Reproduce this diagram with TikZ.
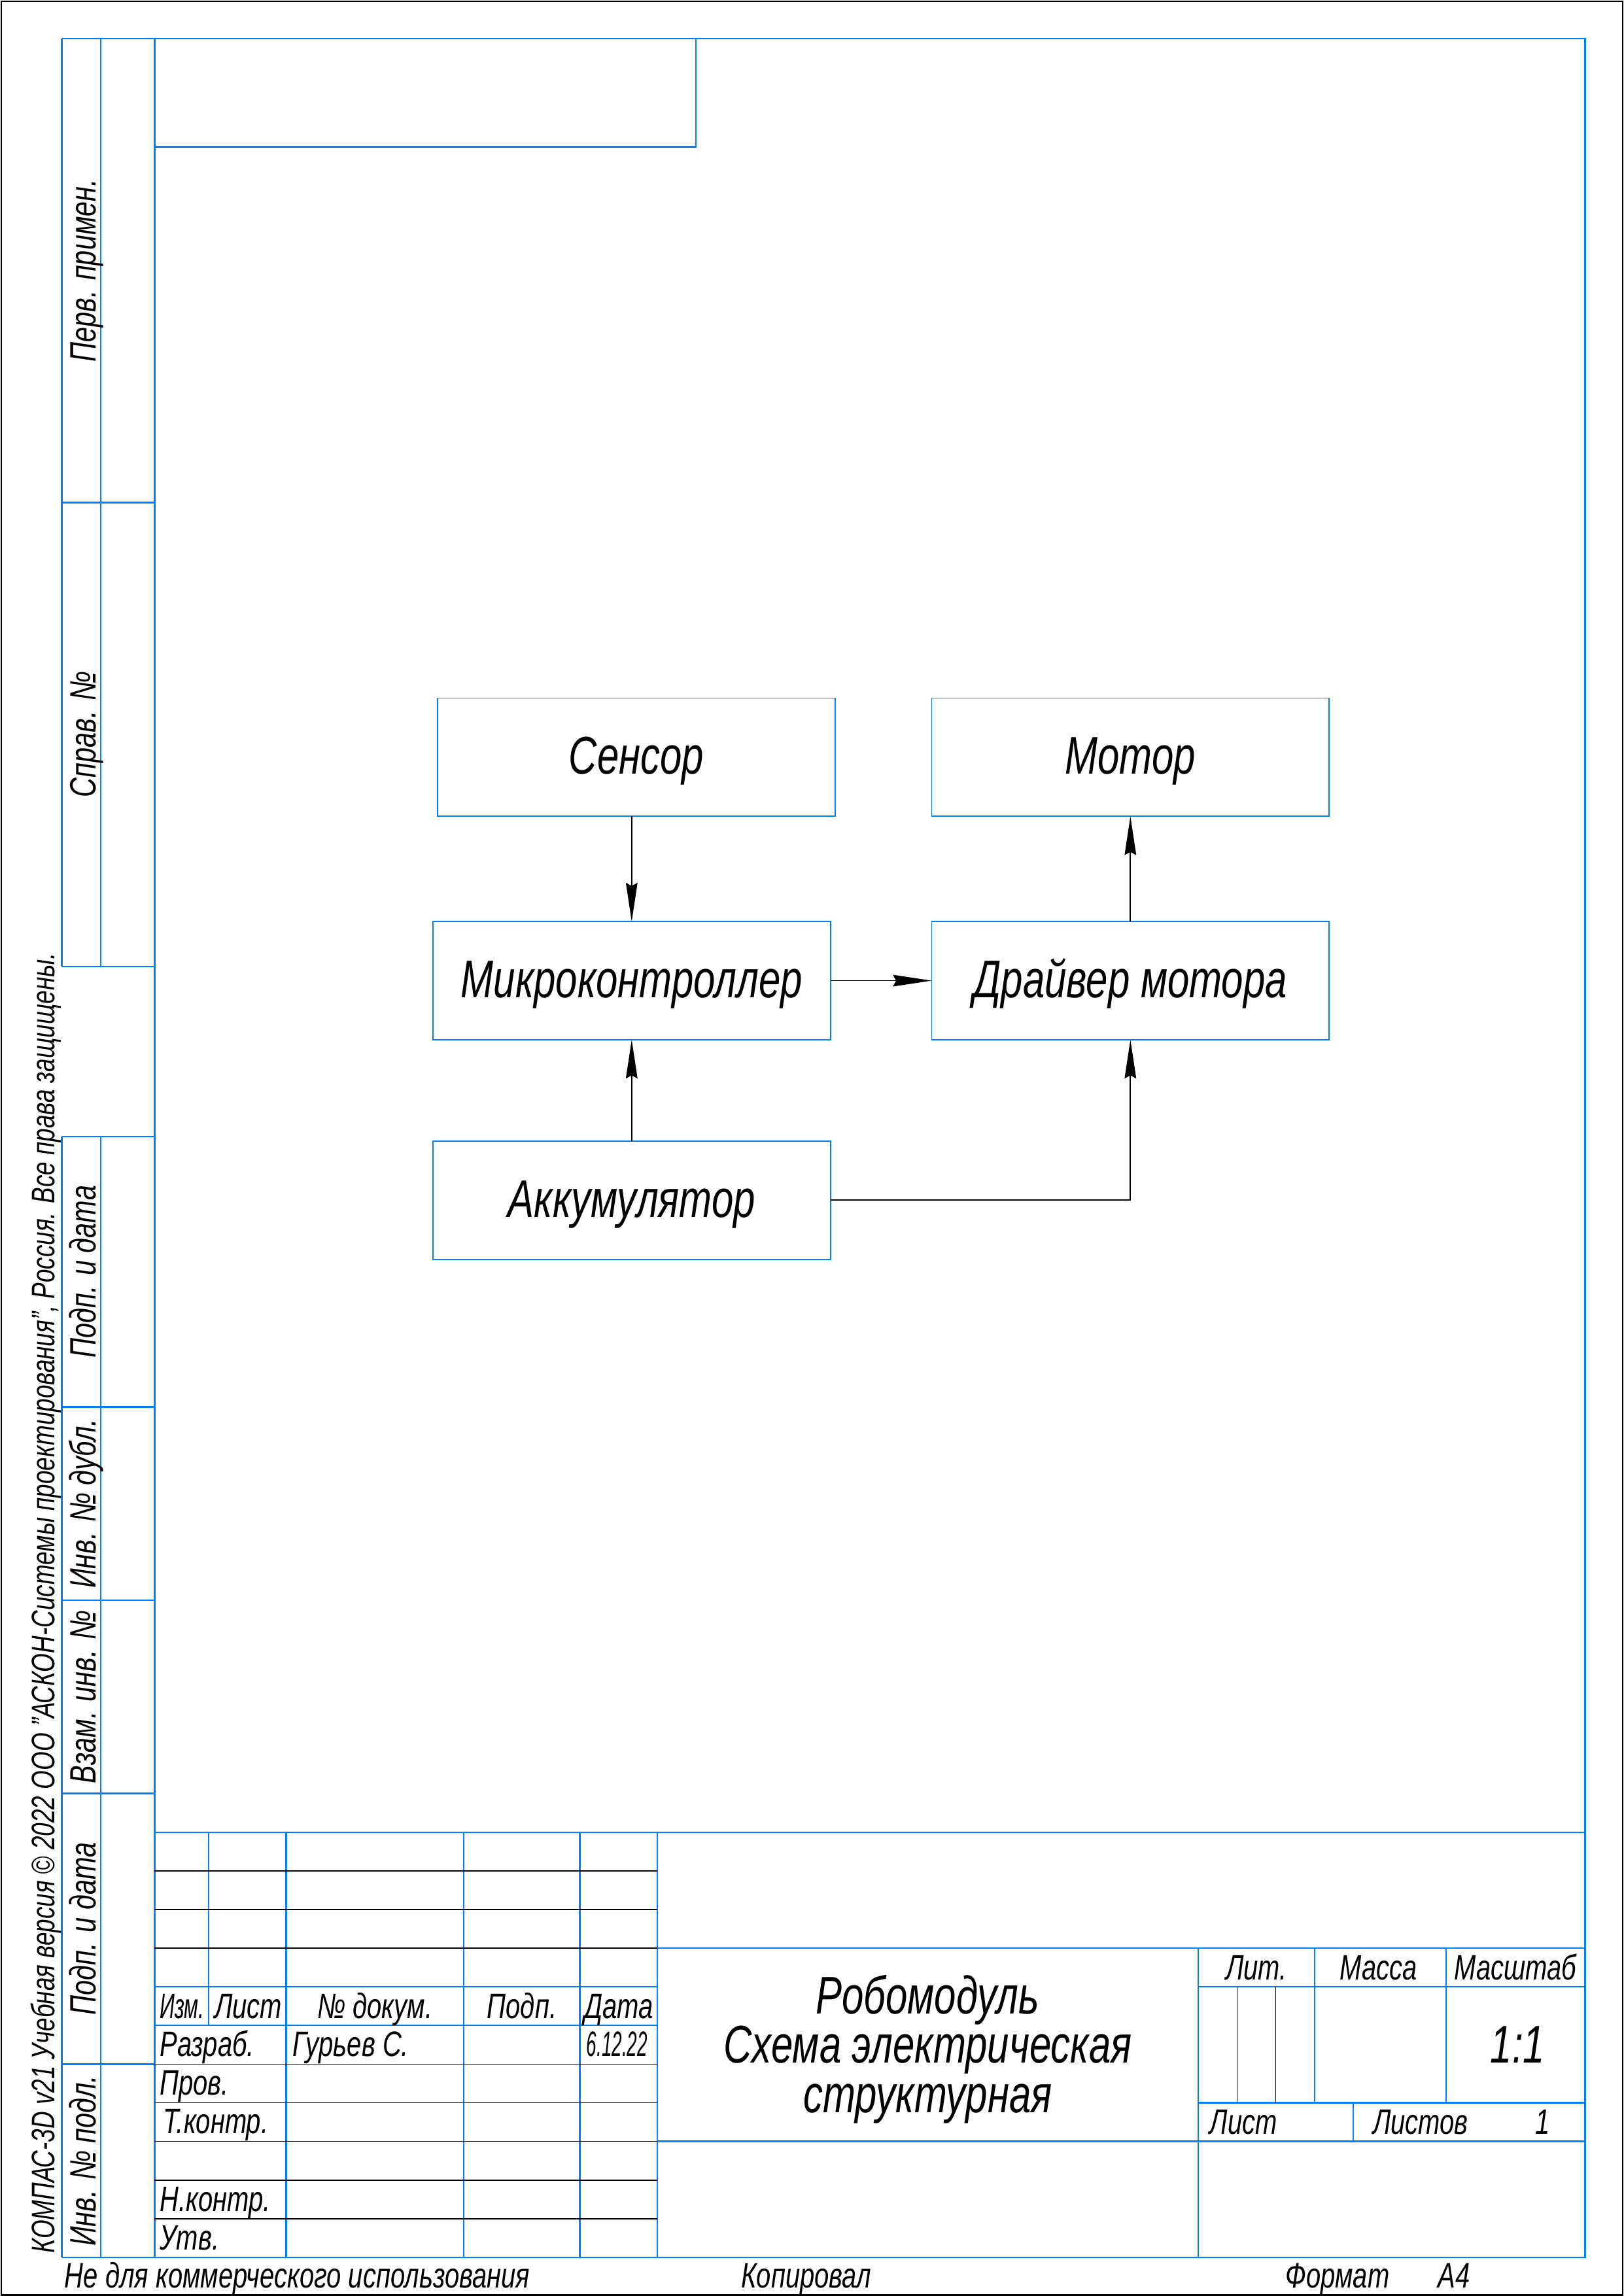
\documentclass[tikz,border=0pt]{standalone}
\usepackage{fontspec}
\setmainfont{Liberation Sans}[FakeStretch=0.74]
\usepackage{graphicx}
\usetikzlibrary{arrows.meta}
\definecolor{kblue}{RGB}{0,128,255}
\newcommand{\squeeze}[2]{\scalebox{#1}[1]{#2}}

\begin{document}
\begin{tikzpicture}[x=1mm, y=-1mm,
	frm/.style={kblue, line width=0.55pt},
	thn/.style={black, line width=0.4pt},
	block/.style={draw=kblue, line width=0.45pt, minimum width=51.4mm, minimum height=15.3mm,
		inner sep=0pt, outer sep=0pt, text height=4.4mm, text depth=0pt,
		font=\fontsize{19.5}{23}\selectfont\itshape},
	conn/.style={line width=0.4pt, -{Stealth[length=5mm, width=1.5mm, inset=0.4mm]}},
	lbl/.style={inner sep=0pt, font=\fontsize{13}{15}\selectfont\itshape},
	big/.style={inner sep=0pt, font=\fontsize{19.5}{23}\selectfont\itshape},
	side/.style={rotate=90, anchor=base, inner sep=0pt, font=\fontsize{13.5}{15}\selectfont\itshape},
	]
	\useasboundingbox (0,0) rectangle (210,297);
	\draw[line width=0.6pt] (0.15,0.15) rectangle (209.85,296.85);

	% frame and side table
	\draw[frm] (20,5) rectangle (205,292);
	\draw[frm] (20,19) -- (90,19) -- (90,5);
	\foreach \x in {8,13} {
		\draw[frm] (\x,5) -- (\x,125);
		\draw[frm] (\x,147) -- (\x,292);
	}
	\foreach \y in {5,65,125,147,182,207,232,267,292}
		\draw[frm] (8,\y) -- (20,\y);
	\foreach \y/\t [count=\i] in {35/Перв. примен., 95/Справ. №, 164.5/Подп. и дата,
		194.5/Инв. № дубл., 219.5/Взам. инв. №, 249.5/Подп. и дата, 279.5/Инв. № подл.}
		\node[side] (side\i) at (12.4,\y) {\t};
	\node[rotate=90, anchor=base west, inner sep=0pt, font=\fontsize{12}{14}\selectfont\itshape]
		(wmark) at (7.1,291.5) {КОМПАС-3D v21 Учебная версия © 2022 ООО "АСКОН-Системы проектирования", Россия. Все права защищены.};

	% title block
	\draw[frm] (20,237) -- (205,237);
	\draw[frm] (27,237) -- (27,262);
	\foreach \x in {37,60,75,85}
		\draw[frm] (\x,237) -- (\x,292);
	\foreach \y in {242,247,252,267,272,277,282,287}
		\draw[thn] (20,\y) -- (85,\y);
	\foreach \y in {257,262}
		\draw[frm] (20,\y) -- (85,\y);
	\foreach \y in {252,277}
		\draw[frm] (85,\y) -- (205,\y);
	\draw[frm] (155,252) -- (155,292);
	\foreach \y in {257,272}
		\draw[frm] (155,\y) -- (205,\y);
	\foreach \x in {170,187}
		\draw[frm] (\x,252) -- (\x,272);
	\draw[frm] (175,272) -- (175,277);
	\foreach \x in {160,165}
		\draw[thn] (\x,257) -- (\x,272);

	\node[lbl, anchor=base west] (izm) at (20.6,261.1) {\squeeze{0.8}{Изм.}};
	\node[lbl, anchor=base west] (list) at (27.7,261.1) {Лист};
	\node[lbl, anchor=base] (ndoc) at (48.5,261.1) {№ докум.};
	\node[lbl, anchor=base] (podp) at (67.5,261.1) {Подп.};
	\node[lbl, anchor=base] (data) at (80,261.1) {Дата};
	\node[lbl, anchor=base west] (razr) at (20.6,266) {Разраб.};
	\node[lbl, anchor=base west] (fio) at (37.8,266) {Гурьев С.};
	\node[lbl, anchor=base] (date) at (79.8,266) {\squeeze{0.7}{6.12.22}};
	\node[lbl, anchor=base west] (prov) at (20.6,271) {Пров.};
	\node[lbl, anchor=base west] (tkontr) at (21,276) {Т.контр.};
	\node[lbl, anchor=base west] (nkontr) at (20.6,286) {Н.контр.};
	\node[lbl, anchor=base west] (utv) at (20.6,291) {Утв.};

	\node[big, anchor=base] (name) at (120,260.5) {Робомодуль};
	\node[big, anchor=base] (kind1) at (120,266.8) {Схема электрическая};
	\node[big, anchor=base] (kind2) at (120,273.3) {структурная};

	\node[lbl, anchor=base] (lit) at (162.5,256.1) {Лит.};
	\node[lbl, anchor=base] (massa) at (178.3,256.1) {Масса};
	\node[lbl, anchor=base] (masht) at (196,256.1) {Масштаб};
	\node[big, anchor=base] (scale) at (196.3,266.8) {1:1};
	\node[lbl, anchor=base west] (sheet) at (156.4,276.1) {Лист};
	\node[lbl, anchor=base west] (sheets) at (177.5,276.1) {Листов};
	\node[lbl, anchor=base] (nsheets) at (199.5,276.1) {1};

	\node[lbl, anchor=base west] (noncom) at (8.3,295.9) {Не для коммерческого использования};
	\node[lbl, anchor=base west] (copied) at (95.8,295.9) {Копировал};
	\node[lbl, anchor=base west] (fmt) at (166.2,295.9) {Формат};
	\node[lbl, anchor=base west] (afour) at (185.9,295.9) {А4};

	% structure scheme
	\node[block] (sensor) at (82.3,97.95) {Сенсор};
	\node[block] (motor) at (146.2,97.95) {Мотор};
	\node[block] (mcu) at (81.7,126.85) {Микроконтроллер};
	\node[block] (driver) at (146.2,126.85) {Драйвер мотора};
	\node[block] (battery) at (81.7,155.25) {Аккумулятор};

	\draw[conn] (sensor.south -| mcu.north) -- (mcu.north);
	\draw[conn] (battery.north) -- (mcu.south);
	\draw[conn] (mcu.east) -- (driver.west);
	\draw[conn] (driver.north) -- (motor.south);
	\draw[conn] (battery.east) -| (driver.south);
\end{tikzpicture}
\end{document}
